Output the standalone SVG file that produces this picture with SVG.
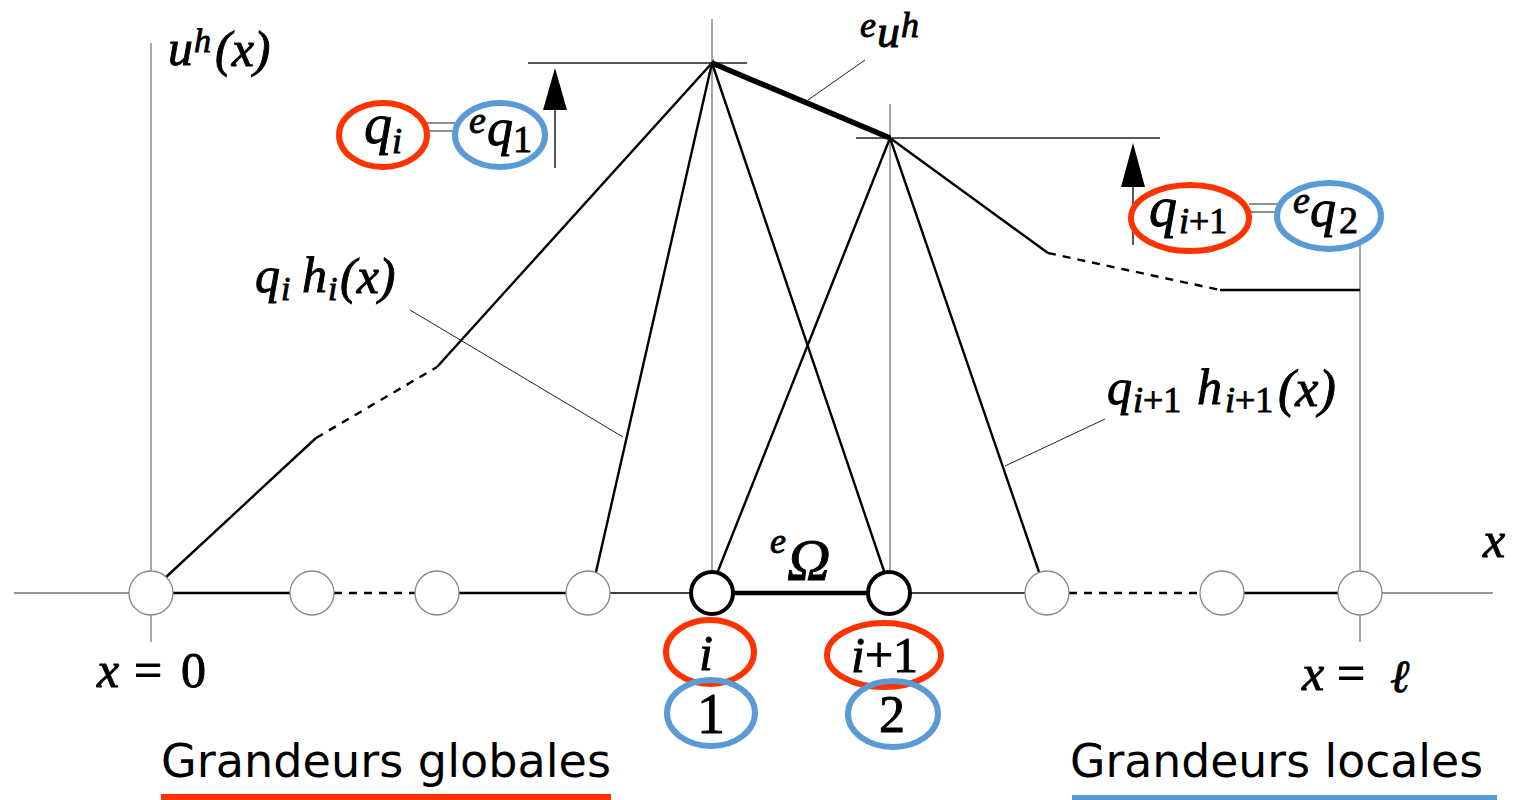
<svg xmlns="http://www.w3.org/2000/svg" width="1515" height="800" viewBox="0 0 1515 800">
<style>
.m{font-family:"Liberation Serif","Times New Roman",serif;font-style:italic;fill:#000;stroke:#000;stroke-width:0.9}
.u{font-style:normal}
.g{stroke:#777;stroke-width:1.3;fill:none}
.t{stroke:#222;stroke-width:1.3;fill:none}
.s{stroke:#000;stroke-width:2.4;fill:none}
.d{stroke:#000;stroke-width:2.4;fill:none;stroke-dasharray:8 7}
.n{fill:#fff;stroke:#888;stroke-width:1.3}
.nb{fill:#fff;stroke:#000;stroke-width:4}
.r{fill:none;stroke:#ff3300;stroke-width:6}
.b{fill:none;stroke:#5b9bd5;stroke-width:6}
.lbl{font-family:"DejaVu Sans",Verdana,sans-serif;font-size:46px;fill:#000}
</style>
<rect width="1515" height="800" fill="#fff"/>
<g id="connectors">
<path class="g" d="M14,593H129M1382,593H1493"/>
<path class="g" d="M151,43V571M151,615V642M1360,245V571M1360,615V642M712,19V571M890,104V571"/>
<path class="t" d="M528,63H747M856,138H1160"/>
<path class="s" d="M173,593H290M459,593H566M1244,593H1338"/>
<path class="s" style="stroke-width:1.6" d="M610,593H690M911,593H1025"/>
<path class="d" d="M334,593H415M1069,593H1200"/>
<path stroke="#000" stroke-width="4.5" d="M734,593H867"/>
<path class="s" d="M165,578L316,438M437,367L712,63L596,572M712,63L884,571"/>
<path class="d" d="M316,438L437,367M1048,253L1220,290"/>
<path class="s" d="M718,571L890,138L1039,572M890,138L1048,253M1220,290H1360"/>
<path stroke="#000" stroke-width="5.5" d="M712,63L890,138"/>
<path class="t" style="stroke-width:1" d="M410,310L623,437M865,60L808,100M1105,419L1005,466"/>
<path class="t" style="stroke-width:1.2" d="M424,123H455M424,131H455M1249,204H1280M1249,212H1280"/>
<path class="t" style="stroke-width:1.5" d="M555,168V108M1133,245V185"/>
<path fill="#000" d="M555,68L567,110H543Z M1133,143L1145,187H1121Z"/>
</g>
<g id="node-0"><circle class="n" cx="151" cy="593" r="22"/></g>
<g id="node-1"><circle class="n" cx="312" cy="593" r="22"/></g>
<g id="node-2"><circle class="n" cx="437" cy="593" r="22"/></g>
<g id="node-3"><circle class="n" cx="588" cy="593" r="22"/></g>
<g id="node-i"><circle class="nb" cx="712" cy="593" r="21"/></g>
<g id="node-i1"><circle class="nb" cx="889" cy="593" r="21"/></g>
<g id="node-6"><circle class="n" cx="1047" cy="593" r="22"/></g>
<g id="node-7"><circle class="n" cx="1222" cy="593" r="22"/></g>
<g id="node-n"><circle class="n" cx="1360" cy="593" r="22"/></g>
<g id="ellipses">
<ellipse class="r" cx="383" cy="135" rx="44" ry="32"/>
<ellipse class="b" cx="500" cy="135" rx="45" ry="32"/>
<ellipse class="r" cx="1190" cy="218" rx="59" ry="33"/>
<ellipse class="b" cx="1329" cy="216" rx="52" ry="33"/>
<ellipse class="r" cx="710" cy="652" rx="44" ry="32"/>
<ellipse class="b" cx="711" cy="713" rx="44" ry="33"/>
<ellipse class="r" cx="884" cy="655" rx="57" ry="32"/>
<ellipse class="b" cx="893" cy="714" rx="45" ry="33"/>
</g>
<g id="labels">
<text class="m"><tspan x="168" y="65" font-size="50">u</tspan><tspan x="194" y="52" font-size="34">h</tspan><tspan x="215" y="66" font-size="50">(x)</tspan></text>
<text class="m"><tspan x="860" y="37" font-size="36">e</tspan><tspan x="877" y="47" font-size="46">u</tspan><tspan x="901" y="37" font-size="36">h</tspan></text>
<text class="m"><tspan x="364" y="143" font-size="56">q</tspan><tspan x="392" y="153" font-size="36">i</tspan></text>
<text class="m"><tspan x="469" y="133" font-size="38">e</tspan><tspan x="487" y="145" font-size="52">q</tspan><tspan class="u" x="513" y="152" font-size="38">1</tspan></text>
<text class="m"><tspan x="1149" y="226" font-size="56">q</tspan><tspan x="1179" y="233" font-size="36">i</tspan><tspan class="u" font-size="36">+1</tspan></text>
<text class="m"><tspan x="1293" y="213" font-size="38">e</tspan><tspan x="1310" y="226" font-size="52">q</tspan><tspan class="u" x="1339" y="233" font-size="38">2</tspan></text>
<text class="m"><tspan x="255" y="292" font-size="50">q</tspan><tspan x="281" y="300" font-size="34">i</tspan><tspan x="302" y="292" font-size="50">h</tspan><tspan x="328" y="300" font-size="34">i</tspan><tspan x="340" y="293" font-size="50">(x)</tspan></text>
<text class="m"><tspan x="1107" y="404" font-size="50">q</tspan><tspan x="1133" y="412" font-size="36">i</tspan><tspan class="u" font-size="36">+1</tspan><tspan x="1197" y="404" font-size="50">h</tspan><tspan x="1225" y="412" font-size="36">i</tspan><tspan class="u" font-size="36">+1</tspan><tspan x="1278" y="406" font-size="52">(x)</tspan></text>
<text class="m"><tspan x="770" y="553" font-size="36">e</tspan><tspan x="787" y="580" font-size="60">Ω</tspan></text>
<text class="m" x="1483" y="557" font-size="50">x</text>
<text class="m"><tspan x="97" y="687" font-size="50">x</tspan><tspan class="u" x="134" y="687" font-size="50">=</tspan><tspan class="u" x="181" y="687" font-size="50">0</tspan></text>
<text class="m"><tspan x="1302" y="690" font-size="50">x</tspan><tspan class="u" x="1337" y="690" font-size="50">=</tspan><tspan x="1390" y="692" font-size="46">ℓ</tspan></text>
<text class="m" x="699" y="670" font-size="50">i</text>
<text class="m" font-size="50"><tspan x="851" y="672">i</tspan><tspan class="u">+1</tspan></text>
<text class="m u" x="697" y="733" font-size="56">1</text>
<text class="m u" x="879" y="732" font-size="52">2</text>
<text class="lbl" x="161" y="777" textLength="450" lengthAdjust="spacingAndGlyphs">Grandeurs globales</text>
<text class="lbl" x="1070" y="777" textLength="413" lengthAdjust="spacingAndGlyphs">Grandeurs locales</text>
</g>
<g id="underlines">
<rect x="161" y="794" width="450" height="6" fill="#ff3300"/>
<rect x="1072" y="795" width="425" height="5" fill="#5b9bd5"/>
</g>
</svg>
